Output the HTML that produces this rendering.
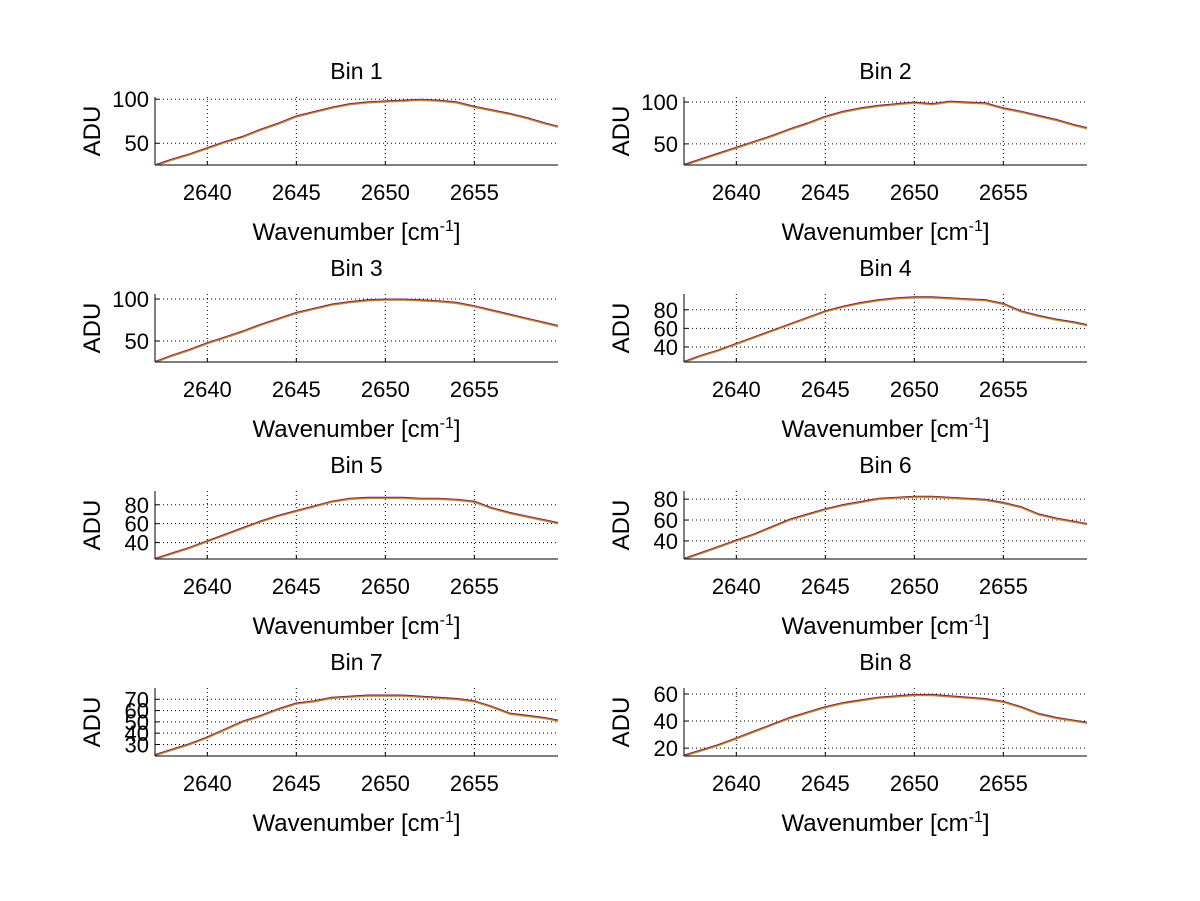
<!DOCTYPE html>
<html><head><meta charset="utf-8"><style>
body{margin:0;background:#fff;}
svg{display:block;font-family:"Liberation Sans",Arial,sans-serif;}
</style></head><body>
<svg id="fig" width="1200" height="901" viewBox="0 0 1200 901" xmlns="http://www.w3.org/2000/svg"></svg>
<script>
// wavenumber samples (cm^-1)
const wn = [2637,2638,2639,2640,2641,2642,2643,2644,2645,2646,2647,2648,2649,2650,2651,2652,2653,2654,2655,2656,2657,2658,2659,2660];
const xTicks = [2640,2645,2650,2655];
const binTitles = ["Bin 1","Bin 2","Bin 3","Bin 4","Bin 5","Bin 6","Bin 7","Bin 8"];
const bin1 = [24,31,37,44,51,57,65,72,80,85,90,94,96,97,98,99,98,96,91,87,83,78,72,67];
const bin2 = [24,31,38,45,52,59,67,74,82,88,92,95,97,99,97,100,99,98,92,88,83,78,72,67];
const bin3 = [24,32,39,47,54,61,69,76,83,88,93,96,98,99,99,98,97,95,91,86,81,76,71,66];
const bin4 = [23,30,36,43,50,57,64,71,78,83,87,90,92,93,93,92,91,90,86,78,73,69,66,62];
const bin5 = [22,28,34,41,48,55,62,68,73,78,83,86,87,87,87,86,86,85,83,76,71,67,63,59];
const bin6 = [22,28,34,40,46,53,60,65,70,74,77,80,81,82,82,81,80,79,76,72,65,61,58,55];
const bin7 = [20,25,30,36,43,50,55,61,66,68,71,72,73,73,73,72,71,70,68,63,57,55,53,50];
const bin8 = [14,18,22,27,32,37,42,46,50,53,55,57,58,59,59,58,57,56,54,50,45,42,40,38];
const binData = [bin1,bin2,bin3,bin4,bin5,bin6,bin7,bin8];
const yTicks1 = [50,100], yTicks2 = [50,100], yTicks3 = [50,100], yTicks4 = [40,60,80];
const yTicks5 = [40,60,80], yTicks6 = [40,60,80], yTicks7 = [30,40,50,60,70], yTicks8 = [20,40,60];
const yTicksAll = [yTicks1,yTicks2,yTicks3,yTicks4,yTicks5,yTicks6,yTicks7,yTicks8];
const yMin = [25.3,24.8,25,23.8,22.6,22.7,19.8,14.2];
const yMax = [102.5,106,106,97,94.6,87.8,80,64.4];
const xMin = 2637.06, xMax = 2659.7;

const NS="http://www.w3.org/2000/svg";
const svg=document.getElementById('fig');
function mk(tag,attrs,parent){const e=document.createElementNS(NS,tag);for(const k in attrs)e.setAttribute(k,attrs[k]);(parent||svg).appendChild(e);return e;}

for(let b=0;b<8;b++){
  const col=b%2,row=Math.floor(b/2);
  const L=155+col*529,R=L+403,B=165+row*197,T=B-68;
  const xs=v=>L+(v-xMin)/(xMax-xMin)*(R-L);
  const ys=v=>B-(v-yMin[b])/(yMax[b]-yMin[b])*(B-T);
  const g=mk('g',{});
  
  
  const clipId='c'+b;
  const cp=mk('clipPath',{id:clipId},g);mk('rect',{x:L,y:T,width:R-L,height:B-T},cp);
  xTicks.forEach(t=>{const x=xs(t);
    const gl=mk('line',{x1:x,x2:x,y1:T,y2:B,stroke:'#000','stroke-width':1,'stroke-dasharray':'1,3'},g);
    
    
    mk('line',{x1:x,x2:x,y1:B,y2:B-4,stroke:'#000'},g);
    const tl=mk('text',{x:x,y:B+35,'font-size':22,'text-anchor':'middle'},g);tl.textContent=t;
    
    
  });
  yTicksAll[b].forEach(t=>{const y=ys(t);
    const gl=mk('line',{x1:L,x2:R,y1:y,y2:y,stroke:'#000','stroke-width':1,'stroke-dasharray':'1,3'},g);
    
    
    mk('line',{x1:L,x2:L+4,y1:y,y2:y,stroke:'#000'},g);
    const tl=mk('text',{x:L-6,y:y+8,'font-size':22,'text-anchor':'end'},g);tl.textContent=t;
    
    
  });
  const d=binData[b];
  const pts=wn.map((w,i)=>xs(w).toFixed(1)+','+ys(d[i]).toFixed(1)).join(' ');
  const s1=mk('polyline',{points:pts,fill:'none',stroke:'#3030a0','stroke-width':1.2,'clip-path':'url(#'+clipId+')',transform:'translate(0,-0.8)'},g);
  
  
  const s2=mk('polyline',{points:pts,fill:'none',stroke:'#e0c040','stroke-width':1,'clip-path':'url(#'+clipId+')',transform:'translate(0,0.6)'},g);
  
  
  const s3=mk('polyline',{points:pts,fill:'none',stroke:'#e86a1a','stroke-width':1.1,'clip-path':'url(#'+clipId+')'},g);
  
  
  mk('line',{x1:L,x2:L,y1:T,y2:B,stroke:'#000'},g);
  mk('line',{x1:L,x2:R,y1:B,y2:B,stroke:'#000'},g);
  const ti=mk('text',{x:(L+R)/2,y:T-18,'font-size':23,'text-anchor':'middle'},g);ti.textContent=binTitles[b];
  
  
  const xl=mk('text',{x:(L+R)/2,y:B+75,'font-size':24,'text-anchor':'middle'},g);
  xl.innerHTML='Wavenumber [cm<tspan dy="-9" font-size="16">-1</tspan><tspan dy="9">]</tspan>';
  
  
  const yl=mk('text',{x:0,y:0,'font-size':24,'text-anchor':'middle',transform:'translate('+(L-55)+','+((T+B)/2)+') rotate(-90)'},g);
  yl.textContent='ADU';
  
  
}
</script>
</body></html>
